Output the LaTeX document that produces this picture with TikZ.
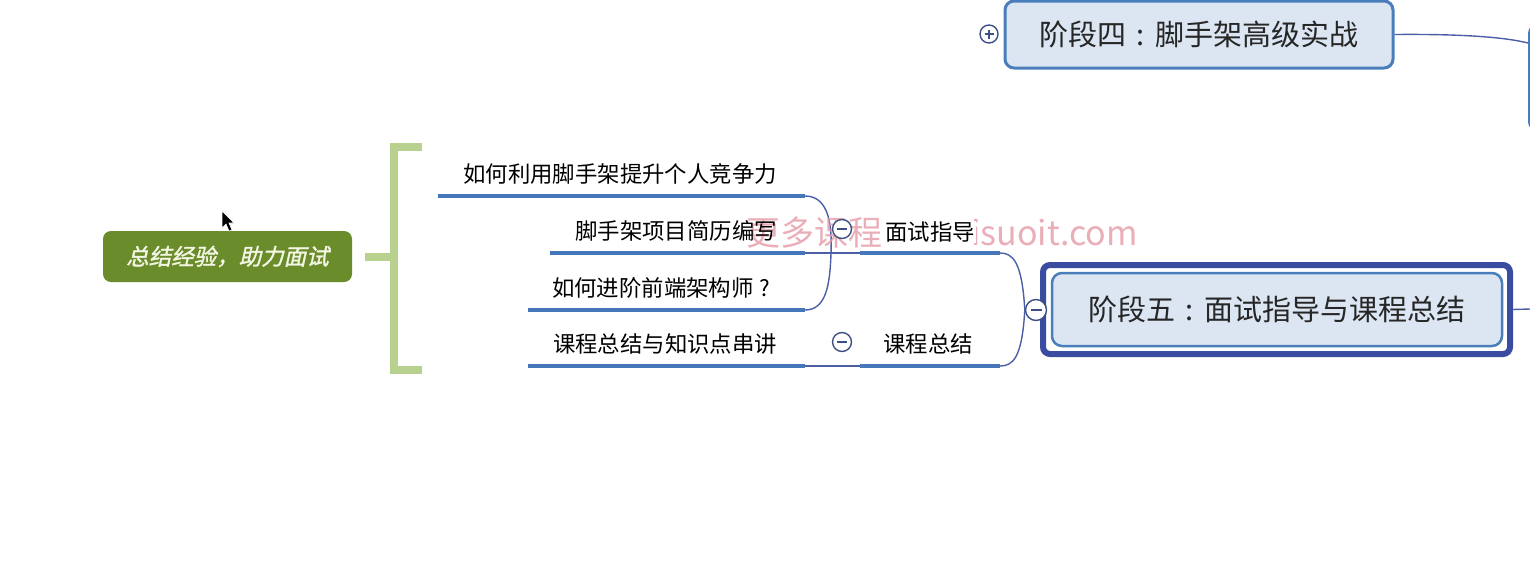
\documentclass[tikz,border=0pt]{standalone}
\usepackage{fontspec}
\newfontfamily\cjk{Noto Sans CJK SC}
\newfontfamily\cjkit[FakeSlant=0.22,FakeBold=1.4]{Noto Sans CJK SC}
\newcommand{\ccolon}{\makebox[1em][c]{:}}
\newcommand{\cquest}{\makebox[1em][c]{?}}
\definecolor{lineblue}{HTML}{4677BA}
\definecolor{thinblue}{HTML}{4B5EA6}
\definecolor{boxfill}{HTML}{DCE6F2}
\definecolor{boxedge}{HTML}{4A7EBB}
\definecolor{darkedge}{HTML}{3A4CA0}
\definecolor{greenbar}{HTML}{B9D18E}
\definecolor{greenbox}{HTML}{6A8C2A}
\definecolor{greentext}{HTML}{F4F6E4}
\definecolor{wmpink}{HTML}{E49AA5}
\definecolor{circblue}{HTML}{3D4F86}
\tikzset{
  stagebox/.style={draw=boxedge, line width=3pt, fill=boxfill, rounded corners=9pt, inner sep=0pt},
  outerbox/.style={draw=darkedge, line width=6pt, fill=white, rounded corners=7pt, inner sep=0pt},
  innerbox/.style={draw=boxedge, line width=2.5pt, fill=boxfill, rounded corners=10pt, inner sep=0pt},
  stagetext/.style={font=\cjk\fontsize{29}{32}\selectfont, text=black!85},
  topic/.style={font=\cjk\fontsize{22.4}{25}\selectfont, text=black, inner sep=0pt},
  uline/.style={draw=lineblue, line width=4pt},
  conn/.style={draw=thinblue, line width=1.4pt},
  toggle/.style={circle, draw=circblue, line width=1.4pt, fill=white, minimum size=19pt, inner sep=0pt},
  greenbarline/.style={draw=greenbar, line width=8pt},
  wmtext/.style={font=\cjk\fontsize{34}{38}\selectfont, text=wmpink, opacity=0.8, inner sep=0pt}
}
\begin{document}
\begin{tikzpicture}[x=1pt,y=-1pt]
\useasboundingbox (0,0) rectangle (1530,568);
\clip (0,0) rectangle (1530,568);

% ---- stage four (top) ----
\node[stagebox, minimum width=388pt, minimum height=67pt] (s4) at (1199,34.5) {};
\node[stagetext] (s4t) at (s4.center) {阶段四\ccolon 脚手架高级实战};
\node[toggle, minimum size=18pt] (c4) at (989,34) {};
\draw[circblue, line width=1.4pt] ([xshift=-4.5pt]c4.center) -- ([xshift=4.5pt]c4.center)
  ([yshift=-4.5pt]c4.center) -- ([yshift=4.5pt]c4.center);
% partial box at right edge
\node[stagebox, minimum width=100pt, minimum height=106pt, anchor=north west] (s3) at (1528,23) {};
\draw[conn] (s4.east) .. controls (1450,34) and (1500,36) .. (s3.west |- 0,43);

% ---- stage five ----
\node[outerbox, minimum width=467pt, minimum height=89pt] (s5o) at (1276.5,309.5) {};
\node[innerbox, minimum width=450pt, minimum height=73pt] (s5) at (1277,309.5) {};
\node[stagetext] (s5t) at (s5.center) {阶段五\ccolon 面试指导与课程总结};
\coordinate (s5r) at (1530,309);
\draw[conn] (s5o.east) -- (s5r);

% ---- level 2 underlines ----
\draw[uline] (860,253) coordinate (g1w) -- (1000,253) coordinate (g1e);
\draw[uline] (860,366) coordinate (g2w) -- (1000,366) coordinate (g2e);

% ---- level 3 underlines ----
\draw[uline] (438,196) coordinate (a1w) -- (805,196) coordinate (a1e);
\draw[uline] (550,253) coordinate (a2w) -- (805,253) coordinate (a2e);
\draw[uline] (528,310) coordinate (a3w) -- (805,310) coordinate (a3e);
\draw[uline] (528,366) coordinate (a4w) -- (805,366) coordinate (a4e);

% ---- connectors ----
\node[toggle, minimum size=21pt] (c5) at (1036,310) {};
\draw[circblue, line width=1.4pt] ([xshift=-5.5pt]c5.center) -- ([xshift=5.5pt]c5.center);
\draw[conn] (c5.west) .. controls (1022,262) and (1013,253) .. (g1e);
\draw[conn] (c5.west) .. controls (1022,358) and (1013,366) .. (g2e);
\coordinate (br) at (831,253);
\draw[conn] (a1e) .. controls (830,196) and (832,228) .. (br);
\draw[conn] (br) .. controls (830,285) and (826,310) .. (a3e);
\draw[conn] (a2e) -- (g1w);
\draw[conn] (a4e) -- (g2w);

% ---- green part ----
\node[rounded corners=8pt, fill=greenbox, minimum width=249pt, minimum height=51pt, inner sep=0pt] (gb) at (227.5,256.5) {};
\node[font=\cjkit\fontsize{22.5}{25}\selectfont, text=greentext, inner sep=0pt] (gbt) at (gb.center) {总结经验，助力面试};
\coordinate (bt) at (422,147);
\coordinate (bb) at (422,370);
\coordinate (bs) at (365,257);
\draw[greenbarline] (bt) -- (394,147) -- (394,370) -- (bb);
\draw[greenbarline] (bs) -- (394,257);

% ---- watermark ----
\node[wmtext, anchor=west] (wm1) at (746,233) {更多课程};
\node[wmtext, anchor=east] (wm2) at (1138,233) {isuoit.com};

% ---- labels ----
\node[topic] (t1) at (620,174) {如何利用脚手架提升个人竞争力};
\node[topic] (t2) at (676,231) {脚手架项目简历编写};
\node[topic] (t3) at (664,288) {如何进阶前端架构师\cquest};
\node[topic] (t4) at (665,344) {课程总结与知识点串讲};
\node[topic, fill=white, inner sep=1pt] (g1) at (930,232) {面试指导};
\node[topic] (g2) at (928,344) {课程总结};

\node[toggle, minimum size=19pt] (cg1) at (842,229) {};
\draw[circblue, line width=1.4pt] ([xshift=-5pt]cg1.center) -- ([xshift=5pt]cg1.center);
\node[toggle, minimum size=19pt] (cg2) at (842,342) {};
\draw[circblue, line width=1.4pt] ([xshift=-5pt]cg2.center) -- ([xshift=5pt]cg2.center);

% ---- mouse cursor ----
\filldraw[fill=black, draw=white, line width=0.6pt]
  (222,211) -- (222,228) -- (226,224) -- (229,231) -- (232,230) -- (229,223) -- (234,223) -- cycle;
\end{tikzpicture}
\end{document}
